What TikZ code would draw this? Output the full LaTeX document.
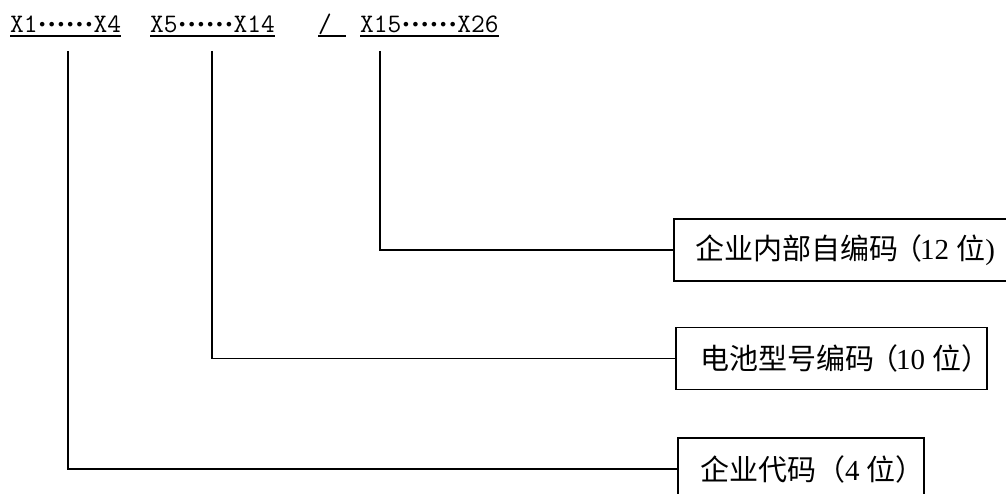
\documentclass[tikz,border=0pt]{standalone}
\usepackage{fontspec}
\setmainfont{Liberation Serif}
\newfontfamily\cjk{Noto Sans CJK SC}
\newfontfamily\symfont{DejaVu Sans}
\newcommand\dotsfw{\raisebox{2.5pt}{\symfont\fontsize{15.8}{18}\selectfont ••••••}}
\begin{document}
\begin{tikzpicture}[x=1pt,y=-1pt,
  conn/.style={line width=1.6pt},
  boxshape/.style={draw, line width=1.6pt, rectangle, inner sep=0pt, minimum height=62pt, anchor=west},
  boxtext/.style={inner sep=0pt, anchor=west, font=\cjk\fontsize{29}{32}\selectfont},
  toplbl/.style={inner sep=0pt, anchor=base west, font=\fontsize{26.7}{30}\selectfont\ttfamily},
  uline/.style={line width=1.3pt}]
\useasboundingbox (0,0) rectangle (1006,494);
\fill[white] (0,0) rectangle (1006,494);
% top labels
\node[toplbl] (l1) at (10,33) {X1\dotsfw X4};
\node[toplbl] (l2) at (150,33) {X5\dotsfw X14};
\node[toplbl] (l3) at (318,33) {\makebox[28pt][l]{/}};
\node[toplbl] (l4) at (360,33) {X15\dotsfw X26};
\foreach \n in {l1,l2,l3,l4}
  \draw[uline] ([yshift=-3pt]\n.base west) -- ([yshift=-3pt]\n.base east);
% boxes
\node[boxshape, minimum width=340pt] (b1) at (673,250) {};
\node[boxshape, minimum width=311pt] (b2) at (675,358.5) {};
\node[boxshape, minimum width=246pt] (b3) at (677,469) {};
\node[boxtext] (t1) at ([xshift=22pt]b1.west) {企业内部自编码\hspace{-5pt}（\hspace{-2pt}{\rmfamily 12 }位{\rmfamily )}};
\node[boxtext] (t2) at ([xshift=25pt]b2.west) {电池型号编码\hspace{-5pt}（\hspace{-2pt}{\rmfamily 10 }位）};
\node[boxtext] (t3) at ([xshift=23pt]b3.west) {企业代码（{\rmfamily 4 }位）};
% connectors
\coordinate (c1) at (68,51);
\coordinate (c2) at (212,51);
\coordinate (c3) at (380,51);
\draw[conn] (c3) |- (b1.west);
\draw[conn] (c2) |- (b2.west);
\draw[conn] (c1) |- (b3.west);
\end{tikzpicture}
\end{document}
